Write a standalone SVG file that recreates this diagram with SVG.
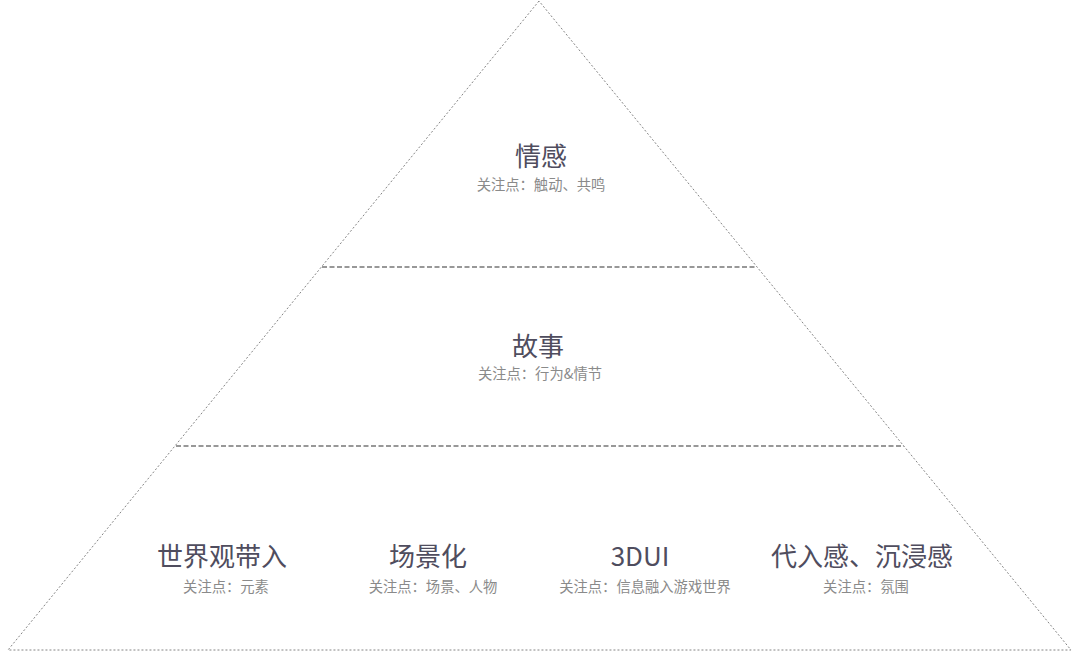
<svg xmlns="http://www.w3.org/2000/svg" width="1080" height="653" viewBox="0 0 1080 653">
<style>
.edge{fill:none;stroke:#777;stroke-width:0.9;stroke-dasharray:2 2}
.div{fill:none;stroke:#777;stroke-width:1.4;stroke-dasharray:5 2.5}
.t{font-family:"Noto Sans CJK SC","Noto Sans",sans-serif;font-size:26px;fill:#4f4d5e;text-anchor:middle}
.s{font-family:"Noto Sans CJK SC","Noto Sans",sans-serif;font-size:14.3px;fill:#8a8a8a;text-anchor:middle}
</style>
<rect width="1080" height="653" fill="#ffffff"/>
<g id="connectors">
<path class="edge" d="M539 1 L8 650 L1071 650 Z"/>
<line class="div" x1="322" y1="267" x2="757" y2="267"/>
<line class="div" x1="176" y1="446" x2="904" y2="446"/>
</g>
<g id="emotion">
<text class="t" x="541" y="166">情感</text>
<text class="s" x="541" y="190">关注点：触动、共鸣</text>
</g>
<g id="story">
<text class="t" x="538" y="356">故事</text>
<text class="s" x="540" y="379">关注点：行为&amp;情节</text>
</g>
<g id="worldview">
<text class="t" x="222" y="566">世界观带入</text>
<text class="s" x="226" y="592">关注点：元素</text>
</g>
<g id="scene">
<text class="t" x="428" y="566">场景化</text>
<text class="s" x="433" y="592">关注点：场景、人物</text>
</g>
<g id="ui3d">
<text class="t" x="640" y="566">3DUI</text>
<text class="s" x="645" y="592">关注点：信息融入游戏世界</text>
</g>
<g id="immersion">
<text class="t" x="862" y="566">代入感、沉浸感</text>
<text class="s" x="866" y="592">关注点：氛围</text>
</g>
</svg>
